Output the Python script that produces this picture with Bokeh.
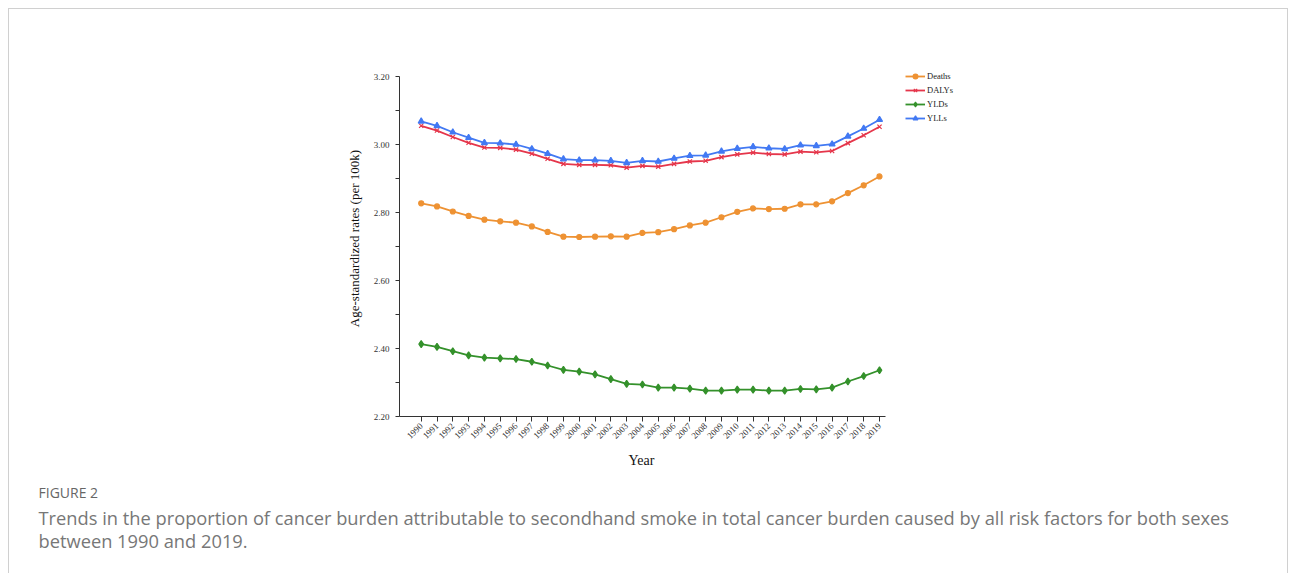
import math
from bokeh.plotting import figure
from bokeh.layouts import column
from bokeh.models import (FixedTicker, NumeralTickFormatter, Legend, LegendItem,
                          Label, Range1d, InlineStyleSheet)
from bokeh.embed import file_html
from bokeh.resources import INLINE

# Age-standardized rates (per 100k), both sexes
years = list(range(1990, 2020))
deaths = [2.827, 2.818, 2.803, 2.790, 2.779, 2.774, 2.770, 2.759, 2.743, 2.729,
          2.728, 2.729, 2.730, 2.729, 2.740, 2.742, 2.751, 2.762, 2.770, 2.786,
          2.802, 2.812, 2.810, 2.811, 2.824, 2.824, 2.833, 2.857, 2.880, 2.906]
dalys = [3.055, 3.041, 3.022, 3.005, 2.991, 2.990, 2.985, 2.973, 2.958, 2.943,
         2.940, 2.940, 2.939, 2.932, 2.937, 2.935, 2.943, 2.950, 2.952, 2.963,
         2.971, 2.976, 2.972, 2.971, 2.979, 2.977, 2.981, 3.004, 3.027, 3.052]
ylds = [2.413, 2.405, 2.392, 2.380, 2.373, 2.371, 2.369, 2.361, 2.350, 2.337,
        2.332, 2.324, 2.310, 2.296, 2.294, 2.285, 2.285, 2.282, 2.276, 2.276,
        2.279, 2.279, 2.276, 2.276, 2.281, 2.280, 2.285, 2.303, 2.319, 2.336]
ylls = [3.068, 3.055, 3.036, 3.020, 3.005, 3.004, 3.000, 2.987, 2.973, 2.957,
        2.954, 2.954, 2.952, 2.946, 2.952, 2.950, 2.959, 2.967, 2.968, 2.980,
        2.988, 2.993, 2.989, 2.987, 2.998, 2.996, 3.001, 3.024, 3.047, 3.073]

y_major = [2.2, 2.4, 2.6, 2.8, 3.0, 3.2]
y_minor = [2.3, 2.5, 2.7, 2.9, 3.1]

x_title = "Year"
y_title = "Age-standardized rates (per 100k)"
caption_head = "FIGURE 2"
caption_lines = [
    "Trends in the proportion of cancer burden attributable to secondhand smoke in total cancer burden caused by all risk factors for both sexes",
    "between 1990 and 2019.",
]

series = [
    ("Deaths", deaths, "#EE9233", "circle", 5),
    ("DALYs", dalys, "#E5364B", "x", 6),
    ("YLDs", ylds, "#34912B", "diamond", 7),
    ("YLLs", ylls, "#4279F3", "triangle", 6),
]

SERIF = "Liberation Serif"
SANS = "Open Sans"

W = 1295
MAIN_H = 445
CAP_H = 573 - MAIN_H

# plot frame geometry (px); the frame is widened past the axes so the legend
# can sit inside it, while axis bounds keep the drawn axes at their extent
FR_LEFT, FR_RIGHT, FR_TOP, FR_BOTTOM = 399, 995, 60, 416
PX_PER_YEAR = 458.3 / 29
PX_PER_UNIT = 340.0
X_START = 1990 - 21.7 / PX_PER_YEAR
X_END = X_START + (FR_RIGHT - FR_LEFT) / PX_PER_YEAR
X_AXIS_END = 2019 + 6 / PX_PER_YEAR
Y_END = 3.2 + (76 - FR_TOP) / PX_PER_UNIT

# thin grey panel frame drawn around the whole page content
frame_css = InlineStyleSheet(css="""
:host { position: relative; }
:host::after {
  content: ""; position: absolute; left: 8px; top: 8px;
  width: 1278px; height: 590px; border: 1px solid #d0d0d0;
  pointer-events: none; z-index: 10;
}
""")

# ---- main chart -------------------------------------------------------
p = figure(width=W, height=MAIN_H, output_backend="svg", toolbar_location=None,
           x_range=Range1d(X_START, X_END), y_range=Range1d(2.2, Y_END),
           min_border_left=FR_LEFT, min_border_right=W - FR_RIGHT,
           min_border_top=FR_TOP, min_border_bottom=MAIN_H - FR_BOTTOM)
p.frame_align = False
p.outline_line_color = None
p.xgrid.visible = False
p.ygrid.visible = False
p.background_fill_color = "white"
p.border_fill_color = "white"

items = []
for name, vals, color, marker, size in series:
    ln = p.line(years, vals, line_color=color, line_width=1.8)
    sc = p.scatter(years, vals, marker=marker, size=size, fill_color=color,
                   line_color=color, line_width=1.2)
    items.append(LegendItem(label=name, renderers=[ln, sc]))

ax_color = "#333333"
xa = p.xaxis[0]
xa.bounds = (X_START, X_AXIS_END)
xa.ticker = FixedTicker(ticks=years)
xa.major_label_orientation = math.pi / 4
xa.major_label_text_font = SERIF
xa.major_label_text_font_size = "9px"
xa.major_label_text_color = "#333333"
xa.major_label_standoff = 3
xa.major_tick_out = 5
xa.major_tick_in = 0
xa.minor_tick_out = 0
xa.axis_line_color = ax_color
xa.major_tick_line_color = ax_color

ya = p.yaxis[0]
ya.bounds = (2.2, 3.2)
ya.ticker = FixedTicker(ticks=y_major, minor_ticks=y_minor)
ya.formatter = NumeralTickFormatter(format="0.00")
ya.major_label_text_font = SERIF
ya.major_label_text_font_size = "9px"
ya.major_label_text_color = "#333333"
ya.major_label_standoff = 6
ya.major_tick_out = 4
ya.major_tick_in = 0
ya.minor_tick_out = 4
ya.minor_tick_in = 0
ya.axis_line_color = ax_color
ya.major_tick_line_color = ax_color
ya.minor_tick_line_color = ax_color
ya.axis_label = y_title
ya.axis_label_text_font = SERIF
ya.axis_label_text_font_style = "normal"
ya.axis_label_text_font_size = "13px"
ya.axis_label_text_color = "#111111"
ya.axis_label_standoff = 9

# legend box: bottom-left corner given in px from the frame's bottom-left
legend = Legend(items=items, location=(506, 292), orientation="vertical",
                padding=0, margin=0, spacing=2, label_height=12, glyph_height=12,
                glyph_width=20, label_standoff=2,
                label_text_font=SERIF, label_text_font_size="8.5px",
                label_text_color="#222222",
                background_fill_alpha=0, border_line_color=None)
p.add_layout(legend, "center")

# ---- lower strip: x-axis title and figure caption --------------------------
# ranges equal the strip's own pixels, y growing downward from the page top
cap = figure(width=W, height=CAP_H, output_backend="svg", toolbar_location=None,
             x_range=Range1d(0, W), y_range=Range1d(573, MAIN_H),
             x_axis_type=None, y_axis_type=None,
             min_border=0, min_border_left=0, min_border_right=0,
             min_border_top=0, min_border_bottom=0)
cap.frame_align = False
cap.outline_line_color = None
cap.xgrid.visible = False
cap.ygrid.visible = False
cap.background_fill_color = "white"
cap.border_fill_color = "white"

# x-axis title centred under the drawn axis (1990..2019 span)
cap.add_layout(Label(x=(FR_LEFT + 885) / 2 - 1, y=460, text=x_title,
                     text_font=SERIF, text_font_size="14px",
                     text_color="#111111", text_align="center",
                     text_baseline="middle"))

cap.add_layout(Label(x=38, y=492, text=caption_head, text_font=SANS,
                     text_font_size="14px", text_color="#666666",
                     text_baseline="middle"))
for i, line in enumerate(caption_lines):
    cap.add_layout(Label(x=38, y=517 + 23 * i, text=line, text_font=SANS,
                         text_font_size="18.3px", text_color="#777777",
                         text_baseline="middle"))

page = column(p, cap, spacing=0, stylesheets=[frame_css])
open("out.html", "w").write(file_html(page, INLINE))
